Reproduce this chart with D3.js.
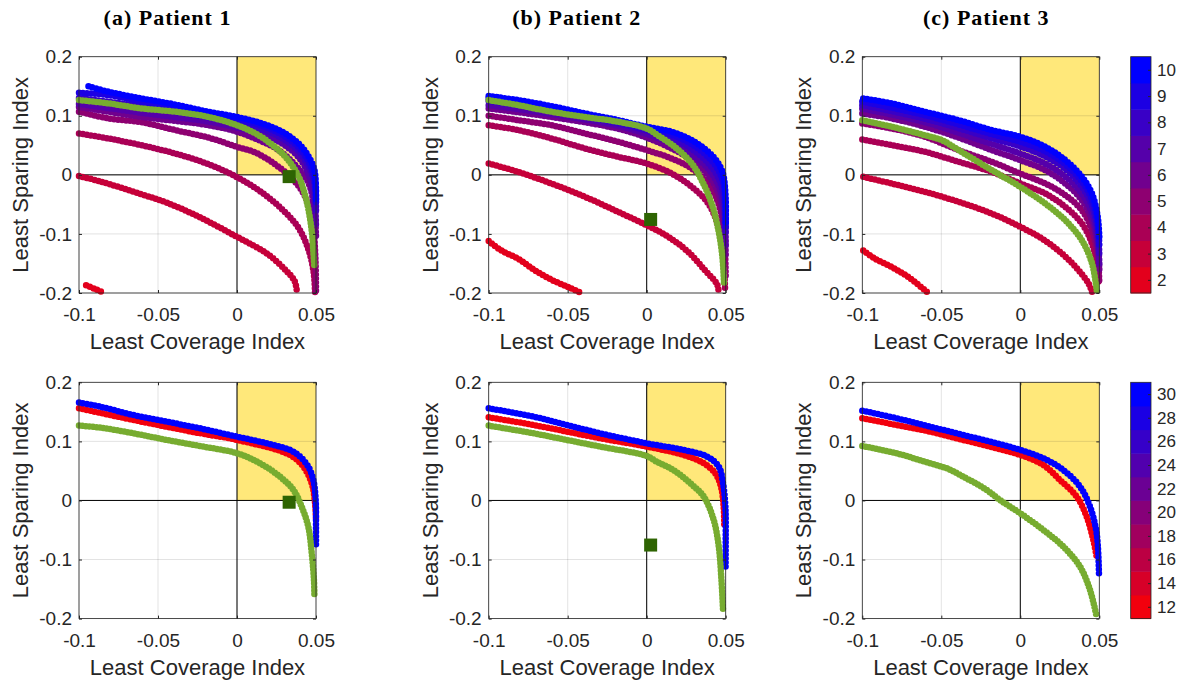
<!DOCTYPE html>
<html><head><meta charset="utf-8">
<script src="https://cdn.jsdelivr.net/npm/d3@7"></script>
<style>body{margin:0;background:#fff} svg{display:block}</style>
</head><body>
<svg id="c" width="1182" height="683"></svg>
<script>
// ---------- data ----------
const xTicks = [-0.1, -0.05, 0, 0.05];
const xTickLabels = ["-0.1", "-0.05", "0", "0.05"];
const yTicks = [0.2, 0.1, 0, -0.1, -0.2];
const yTickLabels = ["0.2", "0.1", "0", "-0.1", "-0.2"];
const titles = ["(a) Patient 1", "(b) Patient 2", "(c) Patient 3"];
const xLabel = "Least Coverage Index";
const yLabel = "Least Sparing Index";
const cbTopTicks = [2, 3, 4, 5, 6, 7, 8, 9, 10];
const cbBottomTicks = [12, 14, 16, 18, 20, 22, 24, 26, 28, 30];

// Top row curves: [value, points]
const p1TopCurves = [
  [2, [[-0.0955,-0.187],[-0.09,-0.193],[-0.084,-0.2]]],
  [3, [[-0.1,-0.002],[-0.0867,-0.011],[-0.0603,-0.033],[-0.0445,-0.047],[-0.0234,-0.072],[0,-0.105],[0.0188,-0.133],[0.0314,-0.163],[0.0365,-0.18],[0.038,-0.2]]],
  [4, [[-0.1,0.07],[-0.0814,0.0616],[-0.0603,0.05],[-0.039,0.036],[-0.018,0.018],[0,-0.004],[0.0158,-0.03],[0.0285,-0.058],[0.039,-0.09],[0.0454,-0.128],[0.0485,-0.165],[0.0494,-0.2]]],
  [5, [[-0.1,0.107],[-0.0814,0.0955],[-0.0603,0.089],[-0.039,0.0757],[-0.018,0.063],[0,0.0474],[0.0115,0.038],[0.024,0.018],[0.0348,-0.006],[0.0432,-0.037],[0.0479,-0.0825],[0.0496,-0.139],[0.05,-0.2]]],
  [6, [[-0.1,0.115],[-0.0603,0.098],[-0.018,0.084],[0,0.073],[0.0137,0.059],[0.0263,0.042],[0.0369,0.0164],[0.0454,-0.0147],[0.049,-0.06],[0.05,-0.105]]],
  [7, [[-0.1,0.12],[-0.0603,0.105],[-0.018,0.09],[0,0.08],[0.0158,0.069],[0.0285,0.053],[0.039,0.03],[0.0454,0.0],[0.049,-0.04],[0.05,-0.09]]],
  [8, [[-0.1,0.13],[-0.0603,0.116],[-0.018,0.097],[0,0.088],[0.0158,0.077],[0.0285,0.062],[0.039,0.04],[0.0454,0.014],[0.049,-0.015],[0.05,-0.06]]],
  [9, [[-0.1,0.139],[-0.0814,0.135],[-0.0603,0.124],[-0.039,0.113],[-0.018,0.102],[0,0.094],[0.0158,0.083],[0.0285,0.068],[0.039,0.047],[0.0454,0.022],[0.049,-0.005],[0.05,-0.05]]],
  [10, [[-0.094,0.15],[-0.0814,0.1407],[-0.0603,0.1294],[-0.039,0.119],[-0.018,0.1068],[0,0.098],[0.0158,0.087],[0.0285,0.073],[0.039,0.053],[0.0454,0.0305],[0.049,0.008],[0.05,-0.026],[0.05,-0.045]]]
];
const p1TopGreen = [[-0.1,0.1266],[-0.0814,0.121],[-0.0603,0.1124],[-0.039,0.1068],[-0.018,0.098],[0,0.084],[0.0137,0.067],[0.024,0.047],[0.0315,0.028],[0.039,-0.003],[0.0441,-0.045],[0.0473,-0.095],[0.0483,-0.13],[0.049,-0.158]];
const p1Square = [0.033, -0.003];

const p2TopCurves = [
  [2, [[-0.1,-0.112],[-0.092,-0.128],[-0.0814,-0.142],[-0.0708,-0.1616],[-0.0603,-0.1775],[-0.0497,-0.19],[-0.0413,-0.2]]],
  [3, [[-0.1,0.0192],[-0.0814,0.005],[-0.0603,-0.0147],[-0.039,-0.0373],[-0.018,-0.0627],[0,-0.0853],[0.0137,-0.105],[0.0263,-0.1305],[0.0369,-0.1616],[0.0443,-0.184],[0.0454,-0.194]]],
  [4, [[-0.1,0.084],[-0.0814,0.0757],[-0.0603,0.0616],[-0.039,0.0446],[-0.018,0.0305],[0,0.0192],[0.0158,0.0022],[0.0285,-0.0203],[0.039,-0.0487],[0.0454,-0.088],[0.0485,-0.139],[0.0496,-0.194]]],
  [5, [[-0.1,0.1],[-0.0814,0.0926],[-0.0603,0.084],[-0.039,0.07],[-0.018,0.056],[0,0.0418],[0.0158,0.0277],[0.0285,0.0107],[0.039,-0.0147],[0.0454,-0.0487],[0.049,-0.105],[0.05,-0.173]]],
  [6, [[-0.1,0.1124],[-0.0603,0.098],[-0.018,0.078],[0,0.063],[0.0158,0.0446],[0.0285,0.0249],[0.039,-0.0006],[0.0454,-0.032],[0.049,-0.0825],[0.05,-0.139]]],
  [7, [[-0.1,0.118],[-0.0603,0.103],[-0.018,0.083],[0,0.069],[0.0158,0.053],[0.0285,0.035],[0.039,0.01],[0.0454,-0.018],[0.049,-0.06],[0.05,-0.12]]],
  [8, [[-0.1,0.125],[-0.0603,0.108],[-0.018,0.087],[0,0.075],[0.0158,0.062],[0.0285,0.044],[0.039,0.02],[0.0454,-0.005],[0.049,-0.04],[0.05,-0.1]]],
  [9, [[-0.1,0.13],[-0.0603,0.113],[-0.018,0.09],[0,0.079],[0.0158,0.068],[0.0285,0.052],[0.039,0.03],[0.0454,0.008],[0.049,-0.02],[0.05,-0.09]]],
  [10, [[-0.1,0.1333],[-0.0814,0.1266],[-0.0603,0.1164],[-0.039,0.104],[-0.018,0.0926],[0,0.0814],[0.0158,0.073],[0.0285,0.0588],[0.039,0.039],[0.0454,0.0192],[0.0485,-0.0006],[0.05,-0.043],[0.05,-0.0825]]]
];
const p2TopGreen = [[-0.1,0.1266],[-0.0814,0.118],[-0.0603,0.1068],[-0.039,0.098],[-0.018,0.0898],[0,0.0785],[0.007,0.067],[0.0179,0.047],[0.0285,0.0192],[0.0348,-0.009],[0.0411,-0.0487],[0.0454,-0.0938],[0.0479,-0.139],[0.049,-0.187]];
const p2Square = [0.0025, -0.0755];

const p3TopCurves = [
  [2, [[-0.0994,-0.128],[-0.092,-0.142],[-0.0814,-0.156],[-0.0708,-0.173],[-0.0603,-0.1955],[-0.0582,-0.2]]],
  [3, [[-0.0994,-0.0034],[-0.0814,-0.0147],[-0.0603,-0.0288],[-0.039,-0.0458],[-0.018,-0.0656],[0,-0.088],[0.0137,-0.108],[0.0263,-0.133],[0.0369,-0.1616],[0.0432,-0.184],[0.0454,-0.198]]],
  [4, [[-0.1,0.06],[-0.0814,0.0503],[-0.0603,0.039],[-0.039,0.022],[-0.018,0.005],[0,-0.0147],[0.0158,-0.0317],[0.0285,-0.0543],[0.039,-0.0825],[0.0454,-0.1164],[0.0485,-0.156],[0.0496,-0.184]]],
  [5, [[-0.1,0.087],[-0.0814,0.0785],[-0.0603,0.0644],[-0.039,0.0418],[-0.018,0.022],[0,0.0022],[0.0158,-0.0147],[0.0285,-0.0345],[0.039,-0.06],[0.0454,-0.0938],[0.049,-0.139],[0.05,-0.184]]],
  [6, [[-0.1,0.104],[-0.0814,0.0955],[-0.0603,0.0814],[-0.039,0.063],[-0.018,0.0418],[0,0.0249],[0.0158,0.0079],[0.0285,-0.0147],[0.039,-0.043],[0.0454,-0.077],[0.049,-0.122],[0.05,-0.16]]],
  [7, [[-0.1,0.112],[-0.0603,0.089],[-0.018,0.052],[0,0.036],[0.0158,0.019],[0.0285,-0.003],[0.039,-0.032],[0.0454,-0.065],[0.049,-0.11],[0.05,-0.15]]],
  [8, [[-0.1,0.118],[-0.0603,0.095],[-0.018,0.062],[0,0.048],[0.0158,0.031],[0.0285,0.01],[0.039,-0.02],[0.0454,-0.052],[0.049,-0.095],[0.05,-0.135]]],
  [9, [[-0.1,0.124],[-0.0603,0.101],[-0.018,0.069],[0,0.056],[0.0158,0.04],[0.0285,0.018],[0.039,-0.011],[0.0454,-0.042],[0.049,-0.083],[0.05,-0.12]]],
  [10, [[-0.0994,0.1294],[-0.0814,0.121],[-0.0603,0.1068],[-0.039,0.0926],[-0.018,0.0757],[0,0.0644],[0.0158,0.0474],[0.0285,0.0249],[0.039,-0.0034],[0.0454,-0.032],[0.049,-0.0712],[0.05,-0.105]]]
];
const p3TopGreen = [[-0.1,0.0926],[-0.0814,0.0814],[-0.0603,0.067],[-0.0497,0.0588],[-0.039,0.0418],[-0.018,0.0079],[0,-0.0203],[0.0158,-0.0487],[0.0285,-0.077],[0.039,-0.111],[0.0454,-0.15],[0.0485,-0.198]];

// Bottom row curves: [value, points]
const p1BottomCurves = [
  [12, [[-0.1,0.156],[-0.0656,0.1362],[-0.0234,0.1137],[0,0.1024],[0.0335,0.077],[0.042,0.0573],[0.0473,0.029],[0.0494,-0.0048],[0.05,-0.033]]],
  [30, [[-0.1,0.1656],[-0.0867,0.1588],[-0.0656,0.1447],[-0.0445,0.1334],[-0.0234,0.1221],[0,0.108],[0.0188,0.0968],[0.0335,0.0855],[0.0399,0.0742],[0.0451,0.0573],[0.0483,0.0347],[0.0498,0.0008],[0.05,-0.0443],[0.05,-0.078]]]
];
const p1BottomGreen = [[-0.1,0.1267],[-0.0867,0.1233],[-0.0656,0.1137],[-0.0445,0.1024],[-0.0234,0.0922],[0,0.0798],[0.0146,0.0629],[0.0272,0.0403],[0.0357,0.0178],[0.0409,-0.0104],[0.0451,-0.0443],[0.0473,-0.0894],[0.0487,-0.1345],[0.049,-0.1627]];

const p2BottomCurves = [
  [12, [[-0.1,0.1408],[-0.0717,0.1278],[-0.0294,0.1052],[0,0.0911],[0.0234,0.077],[0.0361,0.0629],[0.0434,0.046],[0.047,0.0234],[0.0487,-0.0104],[0.0491,-0.0443]]],
  [30, [[-0.1,0.156],[-0.0717,0.1419],[-0.0506,0.1278],[-0.0294,0.1137],[0,0.0968],[0.0234,0.0855],[0.0382,0.0742],[0.0456,0.0573],[0.0483,0.029],[0.0498,-0.0104],[0.05,-0.0668],[0.0499,-0.118]]]
];
const p2BottomGreen = [[-0.1,0.1267],[-0.0717,0.1137],[-0.0506,0.1024],[-0.0294,0.0911],[0,0.0753],[0.0063,0.0657],[0.0169,0.0516],[0.0276,0.0291],[0.0361,0.0065],[0.0424,-0.033],[0.0456,-0.0781],[0.0473,-0.1345],[0.0483,-0.1853]];

const p3BottomCurves = [
  [12, [[-0.1,0.1391],[-0.0783,0.1278],[-0.0572,0.1165],[-0.0361,0.1024],[-0.015,0.0883],[0,0.077],[0.0146,0.0601],[0.0251,0.0347],[0.0357,0.0065],[0.042,-0.0273],[0.0462,-0.0668],[0.0483,-0.095]]],
  [30, [[-0.1,0.152],[-0.0783,0.1391],[-0.0572,0.125],[-0.0361,0.1109],[-0.015,0.0968],[0,0.0855],[0.0146,0.0714],[0.0272,0.0516],[0.0378,0.0234],[0.0441,-0.0104],[0.0483,-0.0556],[0.0498,-0.125]]]
];
const p3BottomGreen = [[-0.1,0.0922],[-0.0783,0.0798],[-0.0572,0.0629],[-0.0466,0.0544],[-0.0361,0.0403],[-0.0213,0.0178],[-0.0129,0.0008],[0,-0.0217],[0.0146,-0.05],[0.0272,-0.0781],[0.0378,-0.112],[0.0441,-0.1515],[0.0483,-0.1966]];

const targetBox = [[0, 0.05], [0, 0.2]];

// ---------- layout ----------
const svg = d3.select("#c");
const colX = [79, 488.7, 862.3], rowY = [56.7, 382.3];
const axW = 237, axH = 236.3;
const cbX = 1130.7, cbW = 20.3;
const titleX = [167.5, 576.7, 986.3];
const ink = "#262626";
const sans = "'Liberation Sans', Arial, Helvetica, sans-serif";
const cmap = d3.interpolateRgb("#ff0000", "#0000ff");
const topT = d3.scaleLinear().domain([1, 10]).range([0, 1]);
const botT = d3.scaleLinear().domain([11, 30]).range([0, 1]);
const topColor = v => cmap(topT(v));
const botColor = v => cmap(botT(v));

const panels = [
  {c:0, r:0, curves:p1TopCurves, green:p1TopGreen, sq:p1Square, color:topColor},
  {c:1, r:0, curves:p2TopCurves, green:p2TopGreen, sq:p2Square, color:topColor},
  {c:2, r:0, curves:p3TopCurves, green:p3TopGreen, sq:null, color:topColor},
  {c:0, r:1, curves:p1BottomCurves, green:p1BottomGreen, sq:p1Square, color:botColor},
  {c:1, r:1, curves:p2BottomCurves, green:p2BottomGreen, sq:p2Square, color:botColor},
  {c:2, r:1, curves:p3BottomCurves, green:p3BottomGreen, sq:null, color:botColor}
];

panels.forEach((p, i) => {
  const x0 = colX[p.c], y0 = rowY[p.r];
  const x = d3.scaleLinear().domain([-0.1, 0.05]).range([x0, x0 + axW]);
  const y = d3.scaleLinear().domain([-0.2, 0.2]).range([y0 + axH, y0]);
  const g = svg.append("g");

  g.append("rect").attr("x", x0).attr("y", y0).attr("width", axW).attr("height", axH).attr("fill", "#fff");
  g.append("rect")
    .attr("x", x(targetBox[0][0])).attr("y", y(targetBox[1][1]))
    .attr("width", x(targetBox[0][1]) - x(targetBox[0][0]))
    .attr("height", y(targetBox[1][0]) - y(targetBox[1][1]))
    .attr("fill", "#ffe87a");
  g.selectAll(".gx").data(xTicks).enter().append("line")
    .attr("x1", d => x(d)).attr("x2", d => x(d)).attr("y1", y0).attr("y2", y0 + axH)
    .attr("stroke", ink).attr("stroke-opacity", 0.13).attr("stroke-width", 1);
  g.selectAll(".gy").data(yTicks).enter().append("line")
    .attr("y1", d => y(d)).attr("y2", d => y(d)).attr("x1", x0).attr("x2", x0 + axW)
    .attr("stroke", ink).attr("stroke-opacity", 0.13).attr("stroke-width", 1);
  g.append("line").attr("x1", x(0)).attr("x2", x(0)).attr("y1", y0).attr("y2", y0 + axH).attr("stroke", "#000").attr("stroke-width", 1);
  g.append("line").attr("x1", x0).attr("x2", x0 + axW).attr("y1", y(0)).attr("y2", y(0)).attr("stroke", "#000").attr("stroke-width", 1);

  const cid = "clip" + i;
  svg.append("clipPath").attr("id", cid).append("rect")
    .attr("x", x0 - 4).attr("y", y0 - 4).attr("width", axW + 8).attr("height", axH + 8);
  const dg = g.append("g").attr("clip-path", `url(#${cid})`);
  const line = d3.line().x(d => x(d[0])).y(d => y(d[1])).curve(d3.curveCatmullRom.alpha(0.5));

  p.curves.forEach(([v, pts]) => {
    dg.append("path").attr("d", line(pts)).attr("fill", "none")
      .attr("stroke", p.color(v)).attr("stroke-width", 6.5)
      .attr("stroke-dasharray", "0 4")
      .attr("stroke-linecap", "round").attr("stroke-linejoin", "round");
  });
  dg.append("path").attr("d", line(p.green)).attr("fill", "none")
    .attr("stroke", "#77ac30").attr("stroke-width", 6.5)
    .attr("stroke-dasharray", "0 3.5")
    .attr("stroke-linecap", "round").attr("stroke-linejoin", "round");
  if (p.sq) {
    const s = 13;
    dg.append("rect").attr("x", x(p.sq[0]) - s / 2).attr("y", y(p.sq[1]) - s / 2)
      .attr("width", s).attr("height", s).attr("fill", "#2e6402");
  }

  const ax = g.append("g").attr("transform", `translate(0,${y0 + axH})`)
    .call(d3.axisBottom(x).tickValues(xTicks).tickFormat((d, k) => xTickLabels[k]).tickSizeInner(-3).tickSizeOuter(0).tickPadding(15));
  const ay = g.append("g").attr("transform", `translate(${x0},0)`)
    .call(d3.axisLeft(y).tickValues(yTicks).tickFormat((d, k) => yTickLabels[k]).tickSizeInner(-3).tickSizeOuter(0).tickPadding(7));
  const at = g.append("g").attr("transform", `translate(0,${y0})`)
    .call(d3.axisTop(x).tickValues(xTicks).tickFormat("").tickSizeInner(-3).tickSizeOuter(0));
  const ar = g.append("g").attr("transform", `translate(${x0 + axW},0)`)
    .call(d3.axisRight(y).tickValues(yTicks).tickFormat("").tickSizeInner(-3).tickSizeOuter(0));
  [ax, ay, at, ar].forEach(a => {
    a.select(".domain").remove();
    a.selectAll("line").attr("stroke", ink);
    a.selectAll("text").attr("fill", ink).style("font-family", sans).style("font-size", "19px");
  });
  g.append("rect").attr("x", x0).attr("y", y0).attr("width", axW).attr("height", axH)
    .attr("fill", "none").attr("stroke", ink).attr("stroke-width", 0.8);

  g.append("text").attr("x", x0 + axW / 2).attr("y", y0 + axH + 56)
    .attr("text-anchor", "middle").attr("fill", ink)
    .style("font-family", sans).style("font-size", "22px").text(xLabel);
  g.append("text").attr("transform", `translate(${x0 - 51},${y0 + axH / 2}) rotate(-90)`)
    .attr("text-anchor", "middle").attr("fill", ink)
    .style("font-family", sans).style("font-size", "22px").text(yLabel);
});

titles.forEach((t, k) => {
  svg.append("text").attr("x", titleX[k]).attr("y", 25).attr("text-anchor", "middle")
    .style("font-family", "'Liberation Serif', 'Times New Roman', serif")
    .style("font-weight", "bold").style("font-size", "22px").style("letter-spacing", "1px")
    .attr("fill", "#000").text(t);
});

function colorbar(r, lo, hi, step, ticks, colorFn) {
  const y0 = rowY[r];
  const s = d3.scaleLinear().domain([lo - step / 2, hi + step / 2]).range([y0 + axH, y0]);
  const g = svg.append("g");
  g.selectAll("rect.bin").data(ticks).enter().append("rect")
    .attr("x", cbX).attr("width", cbW)
    .attr("y", d => s(d + step / 2)).attr("height", d => s(d - step / 2) - s(d + step / 2) + 0.5)
    .attr("fill", d => colorFn(d));
  const a = g.append("g").attr("transform", `translate(${cbX + cbW},0)`)
    .call(d3.axisRight(s).tickValues(ticks).tickSizeInner(-3).tickSizeOuter(0).tickPadding(6));
  a.select(".domain").remove();
  a.selectAll("line").attr("stroke", ink);
  a.selectAll("text").attr("fill", ink).style("font-family", sans).style("font-size", "17px");
  g.append("rect").attr("x", cbX).attr("y", y0).attr("width", cbW).attr("height", axH)
    .attr("fill", "none").attr("stroke", ink).attr("stroke-width", 0.8);
}
colorbar(0, 2, 10, 1, cbTopTicks, topColor);
colorbar(1, 12, 30, 2, cbBottomTicks, botColor);
</script>
</body></html>
